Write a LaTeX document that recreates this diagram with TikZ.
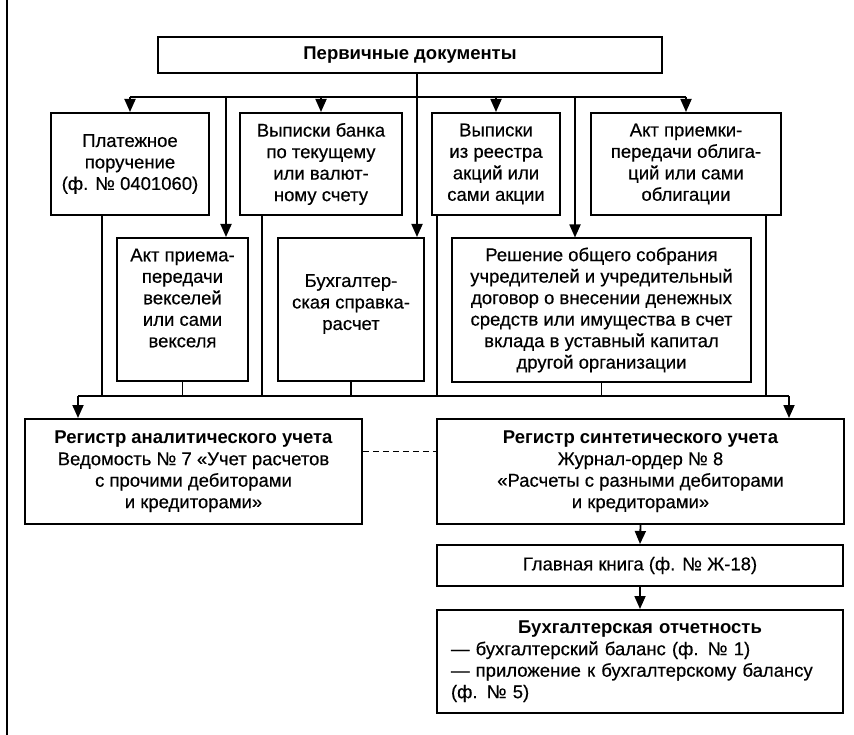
\documentclass[tikz,border=0pt]{standalone}
\usepackage{fontspec}
\setmainfont{Liberation Sans}[UprightFeatures={FakeBold=0.4}]
\usetikzlibrary{arrows.meta}
\begin{document}
\begin{tikzpicture}[x=1pt,y=-1pt,
  txt/.style={align=center,inner sep=0pt,font=\fontsize{18.5}{21.5}\selectfont},
  box/.style={draw,line width=2pt,align=center,inner sep=1pt,
    font=\fontsize{18.5}{21.5}\selectfont},
  ln/.style={line width=1.8pt},
  arr/.style={line width=1.8pt,-{Triangle[length=13pt,width=11pt]}},
  dsh/.style={line width=1.6pt,dash pattern=on 6pt off 4pt}]
\useasboundingbox (0,0) rectangle (854,735);
\draw[line width=2.5pt] (7,0) -- (7,735);

% boxes
\node[box,minimum width=504pt,minimum height=36pt] (top) at (410,55) {\textbf{Первичные документы}};
\node[box,minimum width=158pt,minimum height=102pt] (plat) at (130,164) {Платежное\\поручение\\(ф. № 0401060)};
\node[box,minimum width=162pt,minimum height=102pt] (vypb) at (321,164) {Выписки банка\\по текущему\\или валют-\\ному счету};
\node[box,minimum width=128pt,minimum height=102pt] (vypr) at (496,164) {Выписки\\из реестра\\акций или\\сами акции};
\node[box,minimum width=190pt,minimum height=102pt] (aktobl) at (686,164) {Акт приемки-\\передачи облига-\\ций или сами\\облигации};
\node[box,minimum width=131pt,minimum height=143pt] (aktv) at (182.5,309.5) {};
\node[txt] (aktvt) at (182.5,298) {Акт приема-\\передачи\\векселей\\или сами\\векселя};
\node[box,minimum width=146pt,minimum height=143pt] (buhs) at (351,309.5) {};
\node[txt] (buhst) at (351,304) {Бухгалтер-\\ская справка-\\расчет};
\node[box,minimum width=299pt,minimum height=143pt] (resh) at (601.5,310) {};
\node[txt] (resht) at (601.5,310) {Решение общего собрания\\учредителей и учредительный\\договор о внесении денежных\\средств или имущества в счет\\вклада в уставный капитал\\другой организации};
\node[box,minimum width=337pt,minimum height=105pt] (rega) at (193.5,471.5) {\textbf{Регистр аналитического учета}\\Ведомость № 7 «Учет расчетов\\с прочими дебиторами\\и кредиторами»};
\node[box,minimum width=407pt,minimum height=105pt] (regs) at (640.5,471.5) {\textbf{Регистр синтетического учета}\\Журнал-ордер № 8\\«Расчеты с разными дебиторами\\и кредиторами»};
\node[box,minimum width=406pt,minimum height=41pt] (glav) at (640,565.5) {Главная книга (ф. № Ж-18)};
\node[box,minimum width=406pt,minimum height=103pt,text width=378pt,align=left] (otch) at (640,661.5) {\makebox[\linewidth]{\textbf{Бухгалтерская отчетность}}\\— бухгалтерский баланс (ф. № 1)\\— приложение к бухгалтерскому балансу\\(ф. № 5)};

% helper coordinates
\coordinate (bT) at (0,97);
\coordinate (bB) at (0,396);
\coordinate (xC) at (417,0);
\coordinate (xB) at (226,0);
\coordinate (xD) at (575,0);
\coordinate (d1) at (102,0);
\coordinate (d2) at (262,0);
\coordinate (d3) at (437,0);
\coordinate (d4) at (766,0);
\coordinate (xL) at (78,0);
\coordinate (xR) at (789,0);

% top distribution
\draw[ln] (plat.north |- bT) -- (aktobl.north |- bT);
\draw[arr] (xC |- top.south) -- (xC |- buhs.north);
\draw[arr] (plat.north |- bT) -- (plat.north);
\draw[arr] (vypb.north |- bT) -- (vypb.north);
\draw[arr] (vypr.north |- bT) -- (vypr.north);
\draw[arr] (aktobl.north |- bT) -- (aktobl.north);
\draw[arr] (xB |- bT) -- (xB |- aktv.north);
\draw[arr] (xD |- bT) -- (xD |- resh.north);

% bottom collection
\draw[ln] (d1 |- plat.south) -- (d1 |- bB);
\draw[ln] (d2 |- vypb.south) -- (d2 |- bB);
\draw[ln] (d3 |- vypr.south) -- (d3 |- bB);
\draw[ln] (d4 |- aktobl.south) -- (d4 |- bB);
\draw[ln] (aktv.south) -- (aktv.south |- bB);
\draw[ln] (buhs.south) -- (buhs.south |- bB);
\draw[ln] (resh.south) -- (resh.south |- bB);
\draw[ln] (xL |- bB) -- (xR |- bB);
\draw[arr] (xL |- bB) -- (xL |- rega.north);
\draw[arr] (xR |- bB) -- (xR |- regs.north);

% lower chain
\draw[dsh] ([yshift=20pt]rega.east) -- ([yshift=20pt]regs.west);
\draw[arr] (regs.south) -- (glav.north);
\draw[arr] (glav.south) -- (otch.north);
\end{tikzpicture}
\end{document}
